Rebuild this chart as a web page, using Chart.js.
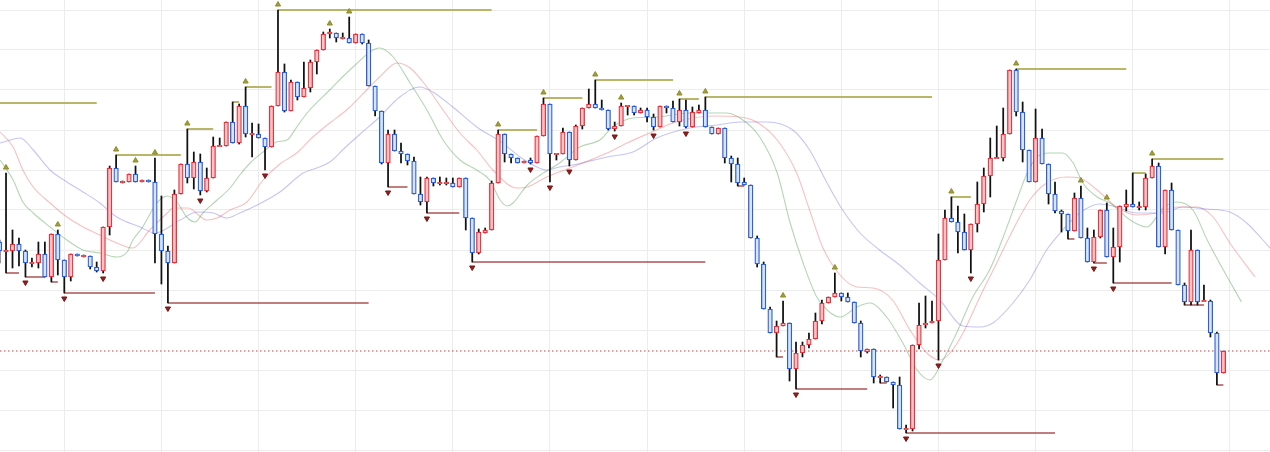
<!DOCTYPE html>
<html lang="en">

<head>
  <meta charset="UTF-8">
  <meta name="viewport" content="width=device-width, initial-scale=1.0">
  <title>Candles | Fractals</title>
  <script src="https://cdn.jsdelivr.net/npm/chart.js"></script>
  <style>
    html, body { margin: 0; padding: 0; background: #ffffff; }
    .grafico { position: relative; width: 1270px; height: 452px; }
  </style>
</head>

<body>

  <div class="grafico">
    <canvas id="candleChart"></canvas>
  </div>

  <script>
    // OHLC, one value per bar
    const opens = [
      208, 199, 199, 206, 199, 187, 187, 196, 173, 216,
      190, 173, 196, 194, 194, 183, 179, 223, 282, 268,
      268, 276, 268, 270, 268, 216, 199, 187, 256, 286,
      272, 288, 259, 272, 304, 304, 328, 307, 344, 316,
      316, 312, 303, 344, 378, 339, 368, 353, 362, 388,
      400, 416, 417, 412, 412, 407, 416, 407, 364, 339,
      287, 316, 299, 296, 289, 256, 248, 272, 267, 267,
      267, 263, 272, 232, 197, 217, 220, 267, 316, 296,
      292, 287, 290, 287, 314, 346, 296, 296, 318, 290,
      324, 342, 346, 342, 340, 321, 324, 344, 344, 337,
      340, 333, 323, 344, 342, 328, 340, 323, 337, 340,
      323, 316, 322, 292, 286, 268, 265, 212, 186, 141,
      117, 124, 127, 81, 97, 105, 111, 129, 147, 153,
      157, 153, 148, 127, 98, 101, 73, 73, 68, 65,
      21, 21, 105, 125, 127, 129, 190, 232, 228, 218,
      200, 226, 246, 274, 292, 292, 316, 380, 338, 300,
      268, 312, 286, 256, 239, 236, 219, 252, 212, 188,
      213, 240, 193, 203, 243, 246, 243, 243, 272, 284,
      203, 260, 220, 165, 148, 200, 149, 149, 117, 77
    ];
    const highs = [
      210, 277, 220, 212, 200, 192, 208, 208, 216, 220,
      190, 196, 196, 195, 194, 188, 223, 284, 295, 269,
      276, 284, 270, 270, 292, 254, 204, 260, 286, 321,
      298, 296, 282, 313, 312, 328, 348, 346, 363, 327,
      326, 312, 344, 440, 386, 370, 368, 388, 390, 400,
      418, 421, 417, 417, 433, 416, 416, 410, 364, 339,
      320, 320, 307, 296, 293, 273, 273, 272, 273, 272,
      272, 272, 272, 232, 221, 222, 269, 320, 316, 296,
      292, 289, 292, 314, 352, 346, 296, 322, 318, 325,
      342, 361, 370, 350, 340, 328, 347, 344, 344, 342,
      342, 336, 344, 344, 349, 351, 350, 343, 345, 353,
      323, 322, 322, 294, 292, 272, 265, 214, 188, 143,
      129, 149, 127, 108, 108, 117, 137, 150, 153, 177,
      157, 157, 148, 129, 101, 101, 75, 73, 68, 73,
      25, 105, 147, 154, 149, 216, 240, 253, 244, 236,
      226, 268, 282, 312, 324, 342, 380, 381, 348, 300,
      341, 321, 286, 268, 240, 236, 257, 264, 222, 220,
      240, 247, 222, 244, 260, 277, 248, 276, 291, 287,
      260, 267, 220, 167, 220, 200, 165, 150, 118, 99
    ];
    const lows = [
      187, 177, 182, 184, 173, 183, 182, 173, 168, 175,
      157, 169, 194, 193, 181, 178, 177, 215, 268, 267,
      268, 268, 268, 268, 187, 166, 147, 187, 256, 267,
      261, 255, 258, 272, 304, 304, 307, 306, 313, 293,
      312, 280, 303, 344, 338, 339, 350, 353, 358, 376,
      400, 412, 408, 411, 407, 407, 406, 364, 334, 286,
      263, 299, 287, 285, 256, 245, 237, 264, 265, 265,
      263, 263, 220, 188, 196, 217, 220, 267, 288, 287,
      287, 287, 286, 287, 314, 268, 290, 296, 284, 290,
      321, 342, 342, 340, 320, 319, 324, 335, 335, 337,
      328, 320, 323, 337, 328, 324, 322, 323, 337, 323,
      316, 316, 287, 268, 264, 265, 212, 183, 141, 117,
      93, 124, 69, 61, 93, 102, 111, 126, 147, 153,
      149, 148, 127, 93, 97, 67, 67, 68, 42, 21,
      17, 19, 101, 122, 127, 90, 190, 228, 197, 200,
      177, 218, 238, 253, 292, 289, 316, 334, 288, 268,
      268, 286, 246, 237, 218, 211, 219, 212, 188, 187,
      212, 193, 167, 188, 239, 243, 240, 240, 272, 203,
      196, 220, 165, 145, 145, 145, 149, 113, 65, 77
    ];
    const closes = [
      199, 199, 206, 199, 187, 187, 196, 173, 216, 190,
      173, 196, 194, 194, 183, 179, 223, 282, 268, 268,
      276, 268, 270, 268, 216, 199, 187, 256, 286, 272,
      288, 259, 272, 304, 304, 328, 307, 344, 316, 316,
      312, 303, 344, 378, 339, 368, 353, 362, 388, 400,
      416, 418, 412, 412, 407, 416, 407, 364, 339, 287,
      316, 299, 296, 289, 256, 248, 272, 267, 267, 267,
      263, 272, 232, 197, 218, 220, 267, 316, 296, 292,
      287, 289, 287, 314, 346, 296, 296, 318, 290, 324,
      342, 346, 342, 340, 321, 324, 344, 344, 337, 340,
      333, 323, 344, 342, 328, 340, 323, 338, 340, 323,
      316, 322, 292, 286, 267, 265, 212, 186, 141, 117,
      124, 127, 81, 97, 105, 111, 129, 147, 153, 157,
      153, 148, 127, 99, 101, 73, 73, 68, 65, 21,
      21, 105, 125, 127, 129, 190, 232, 228, 218, 200,
      226, 246, 274, 292, 292, 316, 380, 338, 300, 268,
      312, 286, 256, 239, 236, 219, 252, 212, 188, 213,
      240, 193, 203, 244, 246, 243, 243, 272, 284, 203,
      260, 220, 165, 148, 200, 148, 149, 117, 77, 99
    ];

    // alligator lines, [bar, value] (shifted forward)
    const jawPts = [
      [0.1, 307], [3.2, 312], [5.2, 300], [7.8, 280], [10.4, 268], [12.9, 258], [15.5, 247], [18.1, 233],
      [21.7, 223], [24, 217], [27.9, 230], [30.5, 238], [33, 237], [35.1, 232], [37.1, 237], [39.8, 245],
      [43.3, 258], [46.9, 277], [49, 282], [51, 288], [53.3, 302], [55.7, 316], [58.7, 333], [61.8, 353],
      [64.9, 363], [66.9, 358], [70, 343], [73.7, 323], [77.7, 307], [80.4, 293], [83, 283], [84.5, 280],
      [86.5, 283], [88.5, 285], [93.8, 293], [97.8, 298], [101.5, 312], [106.6, 322], [110.8, 325],
      [114.3, 328], [118.5, 328], [122.5, 320], [125.1, 300], [127.8, 267], [130.2, 240], [132.9, 217],
      [135.9, 200], [139, 185], [142.1, 167], [145.2, 150], [148.8, 124], [151.4, 123], [153.4, 127],
      [156.5, 147], [159.1, 170], [161.7, 200], [164.2, 220], [166.8, 237], [169.9, 246], [172.5, 243],
      [175.6, 237], [179.6, 237], [182.7, 243], [186.4, 241], [190, 238], [192.6, 227], [195.1, 210], [196.9, 197]
    ];
    const teethPts = [
      [0.1, 318], [2.1, 303], [3.6, 280], [5.2, 263], [7.8, 247], [10.4, 233], [12.9, 223], [15.5, 215],
      [18.1, 207], [20.6, 202], [23.2, 220], [25.9, 237], [26.8, 242], [29.1, 242], [32, 230], [33.6, 232],
      [35.6, 240], [38.2, 248], [40.7, 270], [43.3, 286], [45.9, 297], [48.4, 313], [51, 327], [53.6, 340],
      [56.7, 360], [58.7, 373], [61.4, 387], [63.4, 382], [66, 363], [68.5, 340], [71.1, 317], [73.7, 300],
      [76.2, 280], [79.9, 262], [81.5, 263], [84.5, 273], [88.5, 283], [93.8, 297], [96.9, 307], [100.4, 317],
      [104, 327], [107.1, 332], [110.2, 334], [114.3, 333], [116.9, 328], [120.1, 310], [123.1, 277],
      [125.1, 240], [127.1, 203], [129.8, 175], [132.4, 163], [134.9, 162], [137.9, 150], [140.6, 120],
      [143.2, 97], [145.2, 90], [146.8, 97], [148.8, 117], [151.4, 153], [154, 187], [156.5, 220],
      [159.1, 250], [161.7, 267], [164.8, 273], [166.8, 272], [169.5, 260], [172.5, 243], [175.6, 235],
      [178.7, 237], [181.8, 243], [184.9, 243], [187.4, 233], [190, 207], [193.9, 173]
    ];
    const lipsPts = [
      [0.1, 290], [2.1, 270], [3.6, 248], [5.2, 237], [7.8, 223], [10.4, 210], [12.9, 200], [15.5, 197],
      [18.1, 193], [19.7, 198], [20.6, 210], [22.1, 223], [24.3, 247], [25.9, 254], [27.4, 248], [28.9, 233],
      [30.2, 228], [31.4, 237], [33.6, 250], [35.6, 262], [37.1, 275], [38.7, 287], [40.7, 298], [42.8, 308],
      [44.4, 310], [45.9, 323], [47.5, 337], [51, 360], [54.6, 383], [58.7, 402], [60.8, 393], [63.4, 367],
      [66, 340], [68.5, 310], [71.1, 290], [73.7, 280], [75.7, 270], [77.3, 250], [78.4, 244], [79.3, 247],
      [81.5, 265], [83.5, 275], [86.5, 287], [89.6, 303], [92.7, 310], [94.7, 323], [97.8, 332], [101.5, 333],
      [106.6, 337], [112.3, 337], [114.8, 330], [117.4, 313], [120.1, 277], [122.1, 227], [124.1, 187],
      [126.2, 153], [127.8, 140], [129.8, 133], [132.4, 143], [134.4, 147], [137, 133], [139.5, 107],
      [141.7, 80], [143.7, 70], [145.7, 90], [147.8, 117], [150.3, 153], [152.9, 180], [155, 213],
      [157.1, 250], [158.7, 277], [160.2, 293], [162.2, 297], [164.2, 297], [165.8, 287], [167.3, 267],
      [169.5, 253], [171.5, 247], [174.6, 230], [177.2, 223], [179.7, 242], [181.8, 248], [184.3, 240],
      [186.5, 210], [189, 180], [191.8, 148]
    ];

    // fractals: bar index of each arrow, then [from, to] of each level line
    const fractalUp = [1, 9, 18, 21, 24, 29, 38, 43, 51, 54, 77, 84, 92, 96, 105, 109, 121, 129, 147, 157, 167, 171, 178];
    const fractalDown = [4, 10, 16, 26, 31, 41, 60, 66, 73, 82, 85, 88, 95, 101, 106, 123, 140, 145, 150, 169, 172];
    const upLevels = [[18, 28], [29, 33], [36, 37], [38, 42], [43, 76], [77, 83], [84, 90], [92, 104], [105, 108], [109, 144], [147, 150], [157, 174], [175, 177], [178, 189]];
    const downLevels = [[1, 3], [4, 7], [8, 9], [10, 24], [26, 57], [60, 63], [66, 71], [73, 109], [114, 115], [120, 121], [123, 134], [136, 137], [140, 163], [165, 166], [169, 171], [172, 181], [183, 186], [188, 189]];
    // level left over from a fractal before the first bar
    const priorUp = { level: 347, to: 15 };

    const gridBars = [10, 25, 40, 55, 70, 85, 100, 115, 130, 145, 160, 175, 190];
    const gridPrices = [0, 40, 80, 120, 160, 200, 240, 280, 320, 360, 400, 440];

    const xMin = 0.07;
    const xMax = 196.2;

    const bodies = opens.map((o, i) => {
      let lo = Math.min(o, closes[i]);
      let hi = Math.max(o, closes[i]);
      if (hi - lo < 1) { lo -= 0.6; hi += 0.6; }
      return { x: i, y: [lo, hi] };
    });
    const wicks = opens.map((o, i) => ({ x: i, y: [lows[i], highs[i]] }));
    const isUp = opens.map((o, i) => closes[i] >= o);

    function levelLines(list, values) {
      const pts = [];
      list.forEach(([s, e]) => {
        pts.push({ x: s, y: values[s] }, { x: e, y: values[s] }, { x: e, y: null });
      });
      return pts;
    }

    const upLinePts = [{ x: xMin, y: priorUp.level }, { x: priorUp.to, y: priorUp.level }, { x: priorUp.to, y: null }]
      .concat(levelLines(upLevels, highs));
    const downLinePts = levelLines(downLevels, lows);

    const lastClose = closes[closes.length - 1];

    const lineDefaults = { type: 'line', pointRadius: 0, borderWidth: 1.1, cubicInterpolationMode: 'monotone', fill: false };

    new Chart(document.getElementById('candleChart'), {
      type: 'bar',
      data: {
        datasets: [
          {
            type: 'line', order: -1, showLine: false, pointStyle: 'triangle',
            data: fractalUp.map(i => ({ x: i, y: highs[i] + 5.5 })),
            pointRadius: 3, pointBackgroundColor: '#a19e3a', pointBorderColor: '#8f8c2c', pointBorderWidth: 1
          },
          {
            type: 'line', order: -1, showLine: false, pointStyle: 'triangle', pointRotation: 180,
            data: fractalDown.map(i => ({ x: i, y: lows[i] - 5.5 })),
            pointRadius: 3, pointBackgroundColor: '#8e1f1f', pointBorderColor: '#7a1515', pointBorderWidth: 1
          },
          {
            order: 0, grouped: false, data: bodies, barThickness: 4.6,
            backgroundColor: isUp.map(u => u ? '#f6c5c8' : '#dbe5f7'),
            borderColor: isUp.map(u => u ? '#e8333d' : '#2c5fdc'),
            borderWidth: 1.3, borderSkipped: false
          },
          {
            order: 1, grouped: false, data: wicks, barThickness: 1.1,
            backgroundColor: '#111111', borderWidth: 0
          },
          {
            type: 'line', order: 2, data: [{ x: xMin, y: lastClose }, { x: xMax, y: lastClose }],
            borderColor: '#d9393f', borderWidth: 1, borderDash: [1.5, 2.5], pointRadius: 0
          },
          {
            type: 'line', order: 3, data: upLinePts, spanGaps: false,
            borderColor: '#b9b66a', borderWidth: 2, pointRadius: 0
          },
          {
            type: 'line', order: 3, data: downLinePts, spanGaps: false,
            borderColor: 'rgba(150,40,40,0.8)', borderWidth: 1.4, pointRadius: 0
          },
          Object.assign({ order: 4, data: lipsPts.map(p => ({ x: p[0], y: p[1] })), borderColor: 'rgba(70,150,70,0.4)' }, lineDefaults),
          Object.assign({ order: 4, data: teethPts.map(p => ({ x: p[0], y: p[1] })), borderColor: 'rgba(232,80,80,0.36)' }, lineDefaults),
          Object.assign({ order: 4, data: jawPts.map(p => ({ x: p[0], y: p[1] })), borderColor: 'rgba(95,95,230,0.36)' }, lineDefaults)
        ]
      },
      options: {
        responsive: true,
        maintainAspectRatio: false,
        animation: false,
        layout: { padding: 0, autoPadding: false },
        plugins: {
          legend: { display: false },
          tooltip: { enabled: false }
        },
        scales: {
          x: {
            type: 'linear', min: xMin, max: xMax, offset: false,
            grid: { color: '#ececec', drawTicks: false, offset: false },
            border: { display: false },
            ticks: { display: false },
            afterBuildTicks: s => { s.ticks = gridBars.map(v => ({ value: v })); }
          },
          y: {
            type: 'linear', min: -2, max: 450,
            grid: { color: '#ececec', drawTicks: false },
            border: { display: false },
            ticks: { display: false },
            afterBuildTicks: s => { s.ticks = gridPrices.map(v => ({ value: v })); }
          }
        }
      }
    });
  </script>

</body>

</html>
